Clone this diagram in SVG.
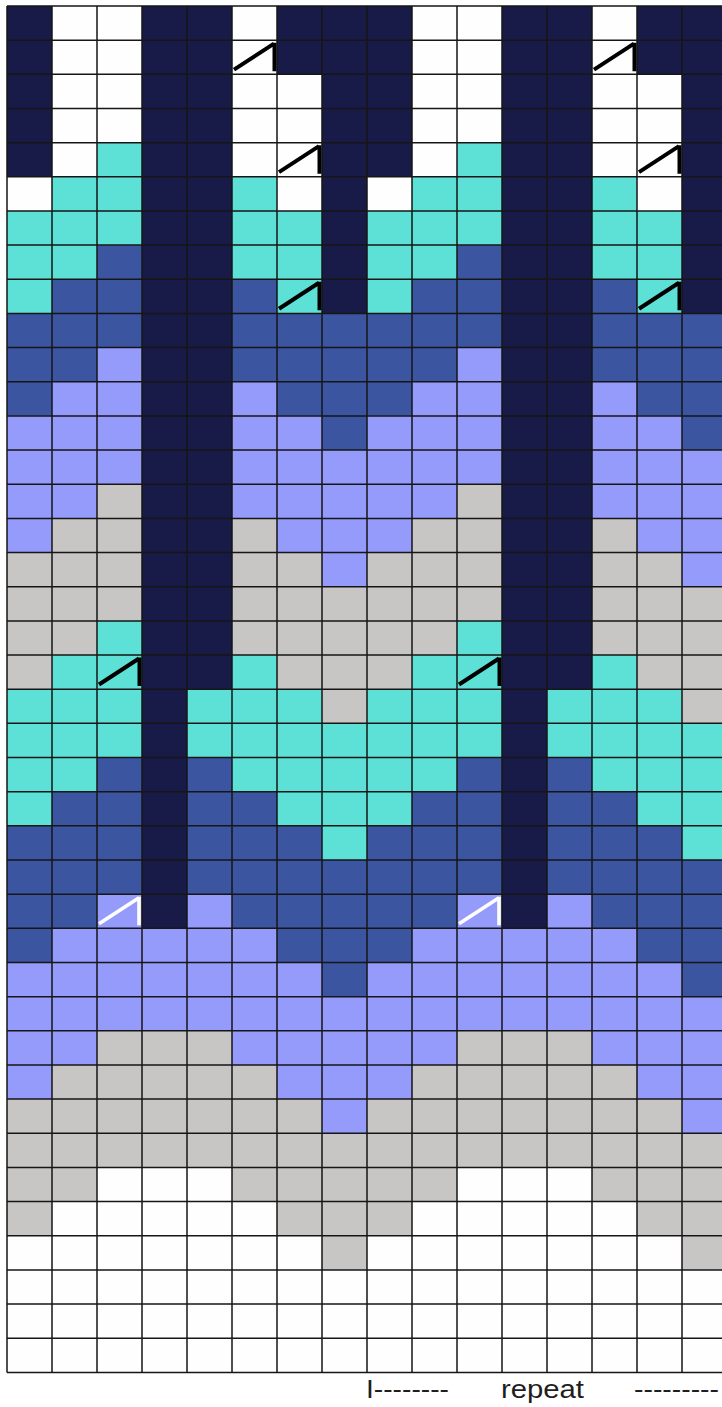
<svg xmlns="http://www.w3.org/2000/svg" xmlns:xlink="http://www.w3.org/1999/xlink" width="722" height="1407" viewBox="0 0 722 1407">
<style>
.N{fill:#181a47}.T{fill:#5de0d6}.B{fill:#3c55a0}.L{fill:#959bfb}.G{fill:#c8c6c4}
.grid{stroke:#161616;stroke-width:1.5;fill:none}
.sym{stroke:#000;stroke-width:4;fill:none;stroke-linecap:butt}
.symw{stroke:#fff;stroke-width:3.6;fill:none;stroke-linecap:butt}
.lbl{font-family:"Liberation Sans",Arial,sans-serif;font-size:25px;fill:#1e1e1e}
</style>
<defs>
<g id="half">
<!-- c0 -->
<rect class="N" x="7" y="6" width="45" height="170.8"/>
<rect class="T" x="7" y="210.96" width="45" height="102.48"/>
<rect class="B" x="7" y="313.44" width="45" height="102.48"/>
<rect class="L" x="7" y="415.92" width="45" height="136.64"/>
<rect class="G" x="7" y="552.56" width="45" height="136.64"/>
<rect class="T" x="7" y="689.2" width="45" height="136.64"/>
<rect class="B" x="7" y="825.84" width="45" height="136.64"/>
<rect class="L" x="7" y="962.48" width="45" height="136.64"/>
<rect class="G" x="7" y="1099.12" width="45" height="136.64"/>
<!-- c1 -->
<rect class="T" x="52" y="176.8" width="45" height="102.48"/>
<rect class="B" x="52" y="279.28" width="45" height="102.48"/>
<rect class="L" x="52" y="381.76" width="45" height="136.64"/>
<rect class="G" x="52" y="518.4" width="45" height="136.64"/>
<rect class="T" x="52" y="655.04" width="45" height="136.64"/>
<rect class="B" x="52" y="791.68" width="45" height="136.64"/>
<rect class="L" x="52" y="928.32" width="45" height="136.64"/>
<rect class="G" x="52" y="1064.96" width="45" height="136.64"/>
<!-- c2 -->
<rect class="T" x="97" y="142.64" width="45" height="102.48"/>
<rect class="B" x="97" y="245.12" width="45" height="102.48"/>
<rect class="L" x="97" y="347.6" width="45" height="136.64"/>
<rect class="G" x="97" y="484.24" width="45" height="136.64"/>
<rect class="T" x="97" y="620.88" width="45" height="136.64"/>
<rect class="B" x="97" y="757.52" width="45" height="136.64"/>
<rect class="L" x="97" y="894.16" width="45" height="136.64"/>
<rect class="G" x="97" y="1030.8" width="45" height="136.64"/>
<!-- c3 -->
<rect class="N" x="142" y="6" width="45" height="922.32"/>
<rect class="L" x="142" y="928.32" width="45" height="102.48"/>
<rect class="G" x="142" y="1030.8" width="45" height="136.64"/>
<!-- c4 -->
<rect class="N" x="187" y="6" width="45" height="683.2"/>
<rect class="T" x="187" y="689.2" width="45" height="68.32"/>
<rect class="B" x="187" y="757.52" width="45" height="136.64"/>
<rect class="L" x="187" y="894.16" width="45" height="136.64"/>
<rect class="G" x="187" y="1030.8" width="45" height="136.64"/>
<!-- c5 -->
<rect class="T" x="232" y="176.8" width="45" height="102.48"/>
<rect class="B" x="232" y="279.28" width="45" height="102.48"/>
<rect class="L" x="232" y="381.76" width="45" height="136.64"/>
<rect class="G" x="232" y="518.4" width="45" height="136.64"/>
<rect class="T" x="232" y="655.04" width="45" height="136.64"/>
<rect class="B" x="232" y="791.68" width="45" height="136.64"/>
<rect class="L" x="232" y="928.32" width="45" height="136.64"/>
<rect class="G" x="232" y="1064.96" width="45" height="136.64"/>
<!-- c6 -->
<rect class="N" x="277" y="6" width="45" height="68.32"/>
<rect class="T" x="277" y="210.96" width="45" height="102.48"/>
<rect class="B" x="277" y="313.44" width="45" height="102.48"/>
<rect class="L" x="277" y="415.92" width="45" height="136.64"/>
<rect class="G" x="277" y="552.56" width="45" height="136.64"/>
<rect class="T" x="277" y="689.2" width="45" height="136.64"/>
<rect class="B" x="277" y="825.84" width="45" height="136.64"/>
<rect class="L" x="277" y="962.48" width="45" height="136.64"/>
<rect class="G" x="277" y="1099.12" width="45" height="136.64"/>
<!-- c7 -->
<rect class="N" x="322" y="6" width="45" height="307.44"/>
<rect class="B" x="322" y="313.44" width="45" height="136.64"/>
<rect class="L" x="322" y="450.08" width="45" height="136.64"/>
<rect class="G" x="322" y="586.72" width="45" height="136.64"/>
<rect class="T" x="322" y="723.36" width="45" height="136.64"/>
<rect class="B" x="322" y="860" width="45" height="136.64"/>
<rect class="L" x="322" y="996.64" width="45" height="136.64"/>
<rect class="G" x="322" y="1133.28" width="45" height="136.64"/>
</g>
<g id="halfsym">
<path class="sym" d="M234 69.66 L274 43.66 M274.5 42.66 V71.16"/>
<path class="sym" d="M279 172.14 L319 146.14 M319.5 145.14 V173.64"/>
<path class="sym" d="M279 308.78 L319 282.78 M319.5 281.78 V310.28"/>
<path class="sym" d="M99 684.54 L139 658.54 M139.5 657.54 V686.04"/>
<path class="symw" d="M99 923.66 L139 897.66 M139 896.66 V925.16"/>
</g>
</defs>
<rect x="0" y="0" width="722" height="1407" fill="#ffffff"/>
<g id="cells">
<rect x="7" y="6" width="720" height="1366.4" fill="#fefefe"/>
<use xlink:href="#half" href="#half"/>
<use xlink:href="#half" href="#half" x="360"/>
</g>
<g id="grid" class="grid">
<path d="M7 6V1372.4M52 6V1372.4M97 6V1372.4M142 6V1372.4M187 6V1372.4M232 6V1372.4M277 6V1372.4M322 6V1372.4M367 6V1372.4M412 6V1372.4M457 6V1372.4M502 6V1372.4M547 6V1372.4M592 6V1372.4M637 6V1372.4M682 6V1372.4"/>
<path d="M7 6H722M7 40.16H722M7 74.32H722M7 108.48H722M7 142.64H722M7 176.8H722M7 210.96H722M7 245.12H722M7 279.28H722M7 313.44H722M7 347.6H722M7 381.76H722M7 415.92H722M7 450.08H722M7 484.24H722M7 518.4H722M7 552.56H722M7 586.72H722M7 620.88H722M7 655.04H722M7 689.2H722M7 723.36H722M7 757.52H722M7 791.68H722M7 825.84H722M7 860H722M7 894.16H722M7 928.32H722M7 962.48H722M7 996.64H722M7 1030.8H722M7 1064.96H722M7 1099.12H722M7 1133.28H722M7 1167.44H722M7 1201.6H722M7 1235.76H722M7 1269.92H722M7 1304.08H722M7 1338.24H722M7 1372.4H722"/>
</g>
<g id="symbols">
<use xlink:href="#halfsym" href="#halfsym"/>
<use xlink:href="#halfsym" href="#halfsym" x="360"/>
</g>
<g id="label">
<text class="lbl" x="366" y="1398" textLength="83" lengthAdjust="spacingAndGlyphs">I--------</text>
<text class="lbl" x="501" y="1398" textLength="83" lengthAdjust="spacingAndGlyphs">repeat</text>
<text class="lbl" x="634" y="1398" textLength="85" lengthAdjust="spacingAndGlyphs">---------</text>
</g>
</svg>
